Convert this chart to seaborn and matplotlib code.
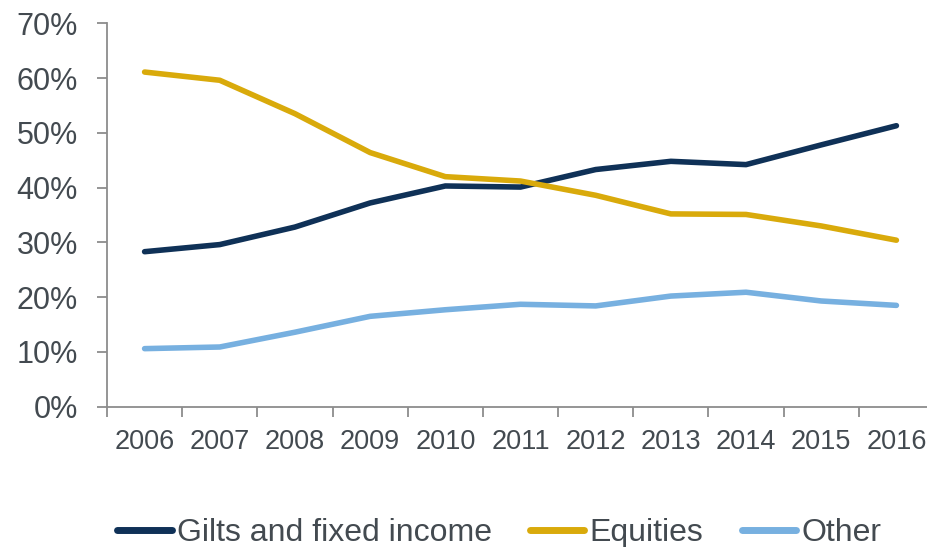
import matplotlib
matplotlib.use("Agg")
import matplotlib.pyplot as plt
from matplotlib.ticker import FixedLocator, PercentFormatter
import seaborn as sns
import pandas as pd

years = list(range(2006, 2017))
gilts = [28.3, 29.6, 32.8, 37.2, 40.3, 40.1, 43.3, 44.8, 44.2, 47.8, 51.3]
equities = [61.1, 59.6, 53.5, 46.4, 42.0, 41.2, 38.6, 35.2, 35.1, 33.0, 30.4]
other = [10.6, 10.9, 13.6, 16.5, 17.7, 18.7, 18.4, 20.2, 20.9, 19.3, 18.5]
series_names = ["Gilts and fixed income", "Equities", "Other"]
colors = ["#0F3157", "#D9AA0B", "#77B0E0"]
y_ticks = [0, 10, 20, 30, 40, 50, 60, 70]

df = pd.DataFrame({
    "year": years * 3,
    "share": gilts + equities + other,
    "series": [n for n in series_names for _ in years],
})

sns.set_theme(style="white")
plt.rcParams["font.family"] = ["Liberation Sans", "DejaVu Sans"]
text_color = "#434A50"
axis_color = "#8C8C8C"

fig = plt.figure(figsize=(9.28, 5.47), dpi=100)
ax = fig.add_axes([107 / 928, 140.3 / 547, 827 / 928, 383.4 / 547])

sns.lineplot(
    data=df, x="year", y="share", hue="series", hue_order=series_names,
    palette=colors, linewidth=4.0, ax=ax, legend=True,
)
for line in ax.get_lines():
    line.set_solid_capstyle("round")

ax.set_xlim(2005.5, 2016.5)
ax.set_ylim(0, 70)
ax.set_xlabel("")
ax.set_ylabel("")

# category labels centred, tick marks on the category boundaries
ax.xaxis.set_major_locator(FixedLocator(years))
ax.set_xticklabels([str(y) for y in years])
ax.xaxis.set_minor_locator(FixedLocator([y - 0.5 for y in years] + [years[-1] + 0.5]))
ax.tick_params(axis="x", which="major", length=0, pad=16, labelsize=19.5, labelcolor=text_color)
ax.tick_params(axis="x", which="minor", length=7, width=1.3, color=axis_color, direction="out", bottom=True)

ax.yaxis.set_major_locator(FixedLocator(y_ticks))
ax.yaxis.set_major_formatter(PercentFormatter(decimals=0))
ax.tick_params(axis="y", which="major", length=7, width=1.3, color=axis_color,
               direction="out", left=True, pad=14, labelsize=22, labelcolor=text_color)

for side in ["top", "right"]:
    ax.spines[side].set_visible(False)
for side in ["left", "bottom"]:
    ax.spines[side].set_color(axis_color)
    ax.spines[side].set_linewidth(1.3)

handles, labels = ax.get_legend_handles_labels()
ax.legend_.remove()
leg = fig.legend(
    handles, labels, loc="center", bbox_to_anchor=(0.538, 14 / 547), ncol=3,
    frameon=False, fontsize=23, handlelength=1.7, handletextpad=0.16,
    columnspacing=1.2, labelcolor=text_color,
)
for h in leg.legend_handles:
    h.set_linewidth(5)
    h.set_solid_capstyle("round")

fig.savefig("out.png", dpi=100, facecolor="white")
